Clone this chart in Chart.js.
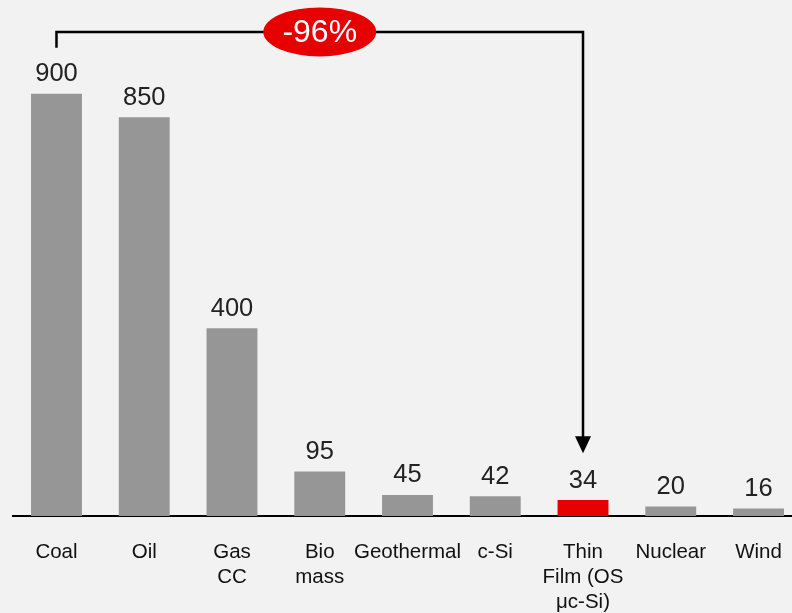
<!DOCTYPE html>
<html><head><meta charset="utf-8">
<script src="https://cdn.jsdelivr.net/npm/chart.js@4"></script>
<style>
html,body{margin:0;padding:0;background:#f2f2f2;overflow:hidden;width:792px;height:613px}
#wrap{position:absolute;left:0;top:0;width:810px;height:613px}
</style></head><body>
<div id="wrap"><canvas id="c" width="810" height="613"></canvas></div>
<script>
const categories = [['Coal'],['Oil'],['Gas','CC'],['Bio','mass'],['Geothermal'],['c-Si'],['Thin','Film (OS','μc-Si)'],['Nuclear'],['Wind']];
const values = [900, 850, 400, 95, 45, 42, 34, 20, 16];
const valueLabels = ['900', '850', '400', '95', '45', '42', '34', '20', '16'];
const highlightIndex = 6;
const reductionLabel = '-96%';
const bracketFrom = 0, bracketTo = 6;
const bracketLevel = 1032, bracketStartLevel = 998, arrowTipLevel = 134;

const FONT = "'Liberation Sans', Helvetica, Arial, sans-serif";
const barColors = values.map((v, i) => i === highlightIndex ? '#e60000' : '#969696');

const valueLabelPlugin = {
  id: 'valueLabels',
  afterDatasetsDraw(chart) {
    const ctx = chart.ctx;
    const meta = chart.getDatasetMeta(0);
    ctx.save();
    ctx.font = '25.5px ' + FONT;
    ctx.fillStyle = '#222';
    ctx.textAlign = 'center';
    ctx.textBaseline = 'alphabetic';
    meta.data.forEach((bar, i) => {
      ctx.fillText(valueLabels[i], bar.x, bar.y - 12.5);
    });
    ctx.restore();
  }
};

const bracketPlugin = {
  id: 'bracket',
  afterDraw(chart) {
    const ctx = chart.ctx;
    const xs = chart.scales.x, ys = chart.scales.y;
    const x0 = xs.getPixelForValue(bracketFrom), x1 = xs.getPixelForValue(bracketTo);
    const yTop = ys.getPixelForValue(bracketLevel);
    const yStart = ys.getPixelForValue(bracketStartLevel);
    const yTip = ys.getPixelForValue(arrowTipLevel);
    ctx.save();
    ctx.strokeStyle = '#000';
    ctx.lineWidth = 2.5;
    ctx.beginPath();
    ctx.moveTo(x0, yStart);
    ctx.lineTo(x0, yTop);
    ctx.lineTo(x1, yTop);
    ctx.lineTo(x1, yTip - 15);
    ctx.stroke();
    ctx.fillStyle = '#000';
    ctx.beginPath();
    ctx.moveTo(x1 - 8, yTip - 17);
    ctx.lineTo(x1 + 8, yTip - 17);
    ctx.lineTo(x1, yTip);
    ctx.closePath();
    ctx.fill();
    const cx = (x0 + x1) / 2;
    ctx.fillStyle = '#e60000';
    ctx.beginPath();
    ctx.ellipse(cx, yTop, 56.5, 24.5, 0, 0, Math.PI * 2);
    ctx.fill();
    ctx.fillStyle = '#fff';
    ctx.font = '32px ' + FONT;
    ctx.textAlign = 'center';
    ctx.textBaseline = 'middle';
    ctx.fillText(reductionLabel, cx, yTop + 1);
    ctx.restore();
  }
};

new Chart(document.getElementById('c'), {
  type: 'bar',
  data: {
    labels: categories,
    datasets: [{
      data: values,
      backgroundColor: barColors,
      borderWidth: 0,
      categoryPercentage: 1.0,
      barPercentage: 0.58
    }]
  },
  options: {
    responsive: false,
    animation: false,
    events: [],
    layout: { padding: { left: 12.6, right: 7.6, top: 0, bottom: 0 } },
    plugins: { legend: { display: false }, tooltip: { enabled: false } },
    scales: {
      x: {
        grid: { display: false, drawTicks: false },
        border: { display: true, color: '#000', width: 2 },
        ticks: {
          color: '#111',
          font: { family: FONT, size: 20.5, lineHeight: 1.22 },
          padding: 24,
          maxRotation: 0,
          autoSkip: false
        },
        afterFit(scale) { scale.height = 97; }
      },
      y: {
        display: false,
        min: 0,
        max: 1100
      }
    }
  },
  plugins: [valueLabelPlugin, bracketPlugin]
});
</script>
</body></html>
